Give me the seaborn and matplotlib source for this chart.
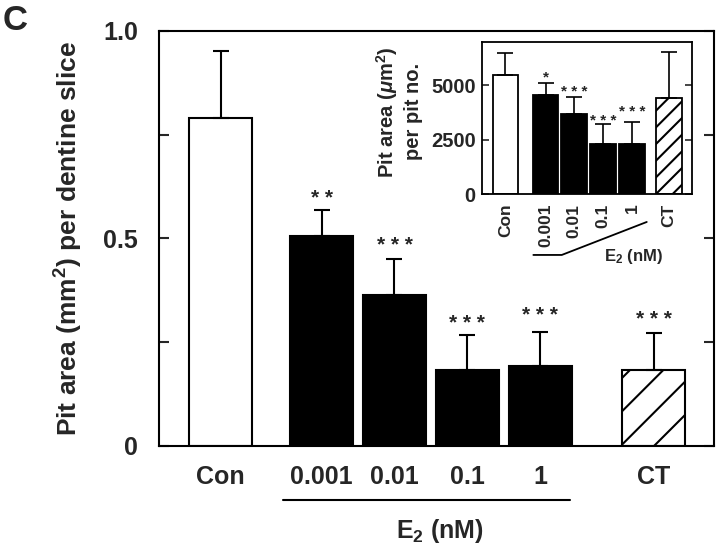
import matplotlib
matplotlib.use("Agg")
import matplotlib.pyplot as plt
import seaborn as sns
import pandas as pd
import numpy as np

# ---------------- data ----------------
categories = ["Con", "0.001", "0.01", "0.1", "1", "CT"]
main_values = [0.789, 0.506, 0.364, 0.183, 0.191, 0.183]
main_errors = [0.162, 0.061, 0.085, 0.084, 0.084, 0.089]
main_stars = ["", "* *", "* * *", "* * *", "* * *", "* * *"]
main_star_y = [0.0, 0.583, 0.470, 0.280, 0.300, 0.290]

inset_values = [5460, 4550, 3670, 2315, 2315, 4440]
inset_errors = [1050, 570, 800, 890, 1000, 2110]
inset_stars = ["", "*", "* * *", "* * *", "* * *", ""]
inset_star_y = [0, 5160, 4500, 3200, 3600, 0]

main_yticks = [0, 0.5, 1.0]
main_yticklabels = ["0", "0.5", "1.0"]
main_minor_yticks = [0.25, 0.75]
inset_yticks = [0, 2500, 5000]
inset_yticklabels = ["0", "2500", "5000"]

# ---------------- layout / style ----------------
main_pos = [0, 1.39, 2.39, 3.39, 4.39, 5.95]
inset_pos = [0, 1.38, 2.37, 3.37, 4.37, 5.64]
fills = ["white", "black", "black", "black", "black", "white"]
hatches = ["", "", "", "", "", "/"]
inset_hatches = ["", "", "", "", "", "//"]

sns.set_theme(style="white")
plt.rcParams["font.family"] = ["Liberation Sans", "DejaVu Sans"]
plt.rcParams["font.weight"] = "bold"
plt.rcParams["mathtext.fontset"] = "custom"
plt.rcParams["mathtext.rm"] = "Liberation Sans:bold"
plt.rcParams["mathtext.it"] = "Liberation Sans:italic:bold"
plt.rcParams["mathtext.bf"] = "Liberation Sans:bold"
plt.rcParams["hatch.linewidth"] = 1.5
plt.rcParams["hatch.color"] = "black"

fig = plt.figure(figsize=(7.2, 5.56), dpi=100)
ax = fig.add_axes([159 / 720, 1 - 445.5 / 556, (714 - 159) / 720, (445.5 - 31) / 556])

df_main = pd.DataFrame({"pos": main_pos, "value": main_values})
sns.barplot(data=df_main, x="pos", y="value", native_scale=True, width=0.865,
            color="white", edgecolor="black", linewidth=1.5, errorbar=None, ax=ax)
for p, fc, h in zip(ax.patches, fills, hatches):
    p.set_facecolor(fc)
    p.set_edgecolor("black")
    p.set_hatch(h)
ax.errorbar(main_pos, main_values, yerr=[np.zeros(len(main_values)), main_errors],
            fmt="none", ecolor="black", elinewidth=1.5, capsize=5.5, capthick=1.5, zorder=1)
for x, y, s in zip(main_pos, main_star_y, main_stars):
    if s:
        ax.text(x, y, s, ha="center", va="baseline", fontsize=15, fontweight="bold")

ax.set_xlim(-0.845, 6.779)
ax.set_ylim(0, 1.0)
ax.set_xticks(main_pos, categories)
ax.set_yticks(main_yticks, main_yticklabels)
ax.set_yticks(main_minor_yticks, minor=True)
ax.tick_params(axis="x", length=0, pad=14, labelsize=18)
ax.tick_params(axis="y", which="both", direction="in", length=7, width=1.5,
               left=True, right=True, pad=15, labelsize=18)
for sp in ax.spines.values():
    sp.set_linewidth(1.5)
    sp.set_color("black")
ax.set_xlabel("")
ax.set_ylabel("Pit area (mm$^2$) per dentine slice", fontsize=19, fontweight="bold")
ax.yaxis.set_label_coords(-0.133, 0.5)

# E2 group underline and label
ax.plot([0.854, 4.80], [-0.131, -0.131], color="black", lw=1.5,
        transform=ax.get_xaxis_transform(), clip_on=False)
fig.text(440 / 720, 1 - 531 / 556, "E$_2$ (nM)", ha="center", va="center", fontsize=18)

fig.text(0.003, 1 - 20 / 556, "C", ha="left", va="center", fontsize=25, fontweight="bold")

# ---------------- inset ----------------
axi = fig.add_axes([482.5 / 720, 1 - 194 / 556, (691.7 - 482.5) / 720, (194 - 42) / 556])
df_in = pd.DataFrame({"pos": inset_pos, "value": inset_values})
sns.barplot(data=df_in, x="pos", y="value", native_scale=True, width=0.89,
            color="white", edgecolor="black", linewidth=1.3, errorbar=None, ax=axi)
for p, fc, h in zip(axi.patches, fills, inset_hatches):
    p.set_facecolor(fc)
    p.set_edgecolor("black")
    p.set_hatch(h)
axi.errorbar(inset_pos, inset_values, yerr=[np.zeros(len(inset_values)), inset_errors],
             fmt="none", ecolor="black", elinewidth=1.2, capsize=6, capthick=1.2, zorder=1)
for x, y, s in zip(inset_pos, inset_star_y, inset_stars):
    if s:
        axi.text(x, y, s, ha="center", va="baseline", fontsize=11, fontweight="bold")
axi.set_xlim(-0.793, 6.42)
axi.set_ylim(0, 7000)
axi.set_xticks(inset_pos, categories, rotation=90)
axi.set_yticks(inset_yticks, inset_yticklabels)
axi.tick_params(axis="x", length=0, pad=7, labelsize=12.5)
axi.tick_params(axis="y", direction="in", length=5, width=1.2, left=True, right=True,
                pad=5, labelsize=14.5)
for sp in axi.spines.values():
    sp.set_linewidth(1.3)
    sp.set_color("black")
axi.set_xlabel("")
axi.set_ylabel("Pit area ($\\mu$m$^2$)\nper pit no.", fontsize=14.5, fontweight="bold",
               linespacing=1.3)
axi.yaxis.set_label_coords(-0.284, 0.54)
axi.plot([0.96, 1.94, 4.87], [-0.401, -0.401, -0.184], color="black", lw=1.3,
         transform=axi.get_xaxis_transform(), clip_on=False)
axi.text(4.43, -0.414, "E$_2$ (nM)", transform=axi.get_xaxis_transform(),
         ha="center", va="center", fontsize=12)

fig.savefig("out.png", dpi=100)
